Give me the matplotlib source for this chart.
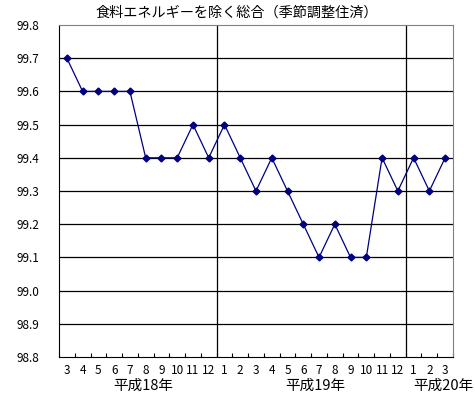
import matplotlib
matplotlib.use("Agg")
import matplotlib.pyplot as plt

plt.rcParams['font.family'] = ['Noto Sans CJK JP', 'DejaVu Sans']

months = ['3', '4', '5', '6', '7', '8', '9', '10', '11', '12',
          '1', '2', '3', '4', '5', '6', '7', '8', '9', '10', '11', '12',
          '1', '2', '3']
values = [99.7, 99.6, 99.6, 99.6, 99.6, 99.4, 99.4, 99.4, 99.5, 99.4,
          99.5, 99.4, 99.3, 99.4, 99.3, 99.2, 99.1, 99.2, 99.1, 99.1, 99.4, 99.3,
          99.4, 99.3, 99.4]
years = ['平成18年', '平成19年', '平成20年']
year_breaks = [9.5, 21.5]
title = '食料エネルギーを除く総合（季節調整住済）'

fig = plt.figure(figsize=(4.75, 3.93), dpi=100)
ax = fig.add_axes([59/475, 1-357/393, 394/475, 332/393])

x = range(len(values))
ax.plot(x, values, color='#000080', lw=0.9, marker='D', ms=3.5)

ax.set_xlim(-0.5, len(values) - 0.5)
ax.set_ylim(98.8, 99.8)
ax.set_yticks([98.8 + 0.1*i for i in range(11)])
ax.set_yticklabels(['%.1f' % (98.8 + 0.1*i) for i in range(11)], fontsize=8.5)
ax.tick_params(axis='y', length=0, pad=14)
for i in range(1, 10):
    ax.axhline(98.8 + 0.1*i, color='black', lw=0.9, zorder=0)
for b in year_breaks:
    ax.axvline(b, color='black', lw=0.9, zorder=0)

ax.set_xticks(list(x))
ax.set_xticklabels(months, fontsize=8.5)
ax.tick_params(axis='x', length=0, pad=5)
ax.set_xticks([i + 0.5 for i in range(-1, len(values))], minor=True)
ax.tick_params(axis='x', which='minor', direction='in', length=3, width=0.8)

for s in ['left', 'bottom']:
    ax.spines[s].set_color('black')
for s in ['top', 'right']:
    ax.spines[s].set_color('#808080')

year_pos = [143, 315, 443]
for label, px in zip(years, year_pos):
    fig.text(px/475, 1-386/393, label, fontsize=10.5, ha='center', va='center')

fig.text(237/475, 1-13/393, title, fontsize=10.2, ha='center', va='center')

fig.savefig('out.png', dpi=100)
